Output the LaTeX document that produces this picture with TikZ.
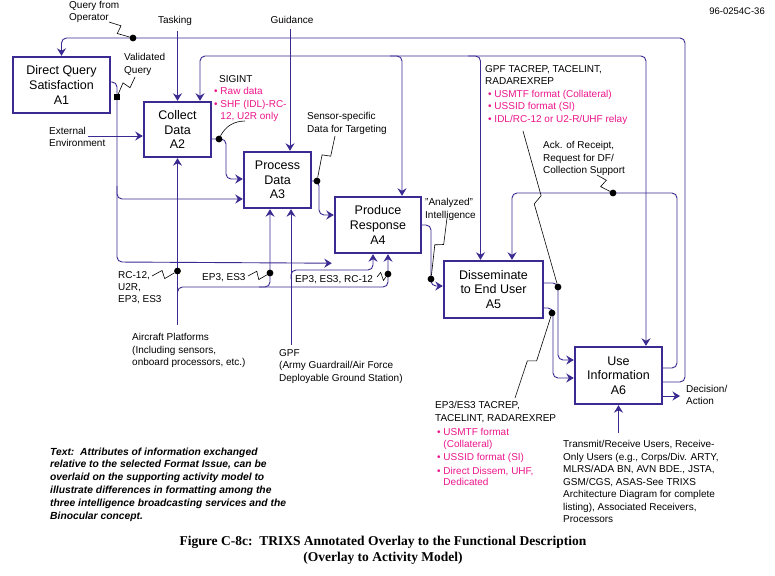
\documentclass[tikz,border=0pt]{standalone}
\usepackage{fontspec}
\setmainfont{Liberation Sans}
\newfontfamily\capfont{Liberation Serif}
\usetikzlibrary{arrows.meta,positioning,calc}
\definecolor{idef}{RGB}{58,42,145}
\definecolor{hot}{RGB}{236,22,140}
\tikzset{>/.tip={Stealth[length=7.5pt,width=9pt,inset=2.5pt]}}
\tikzset{box/.style={draw=idef,line width=2.4pt,align=center,inner sep=0pt,font=\fontsize{12.5}{14.7}\selectfont}}
\tikzset{flow/.style={draw=idef,line width=0.9pt,rounded corners=5pt,->}}
\tikzset{lead/.style={draw=black,line width=0.6pt}}
\tikzset{lbl/.style={font=\fontsize{10}{12.5}\selectfont,align=left,inner sep=0pt,anchor=north west}}
\tikzset{dot/.style={circle,fill=black,inner sep=0pt,minimum size=6.8pt}}
\tikzset{sqdot/.style={rectangle,fill=black,inner sep=0pt,minimum size=5.5pt}}
\def\pk#1{\textcolor{hot}{#1}}
\def\zigto#1#2{\draw[lead] (#1) -- ($(#1)!.42!(#2)!3.5pt!90:(#2)$) -- ($(#1)!.46!(#2)!5pt!-90:(#2)$) -- (#2);}

\begin{document}
\begin{tikzpicture}[x=1pt,y=-1pt,on grid]
        \useasboundingbox[fill=white] (0,0) rectangle (775,575);
        % activity boxes
        \node[box,minimum width=97pt,minimum height=56pt] (A1) at (61.5,85) {Direct Query\\Satisfaction\\A1};
        \node[box,minimum width=67pt,minimum height=55pt,below right=44.5pt and 116pt of A1] (A2) {Collect\\Data\\A2};
        \node[box,minimum width=67pt,minimum height=56pt,below right=50.5pt and 100pt of A2] (A3) {Process\\Data\\A3};
        \node[box,minimum width=86pt,minimum height=56pt,below right=45pt and 100.5pt of A3] (A4) {Produce\\Response\\A4};
        \node[box,minimum width=99pt,minimum height=57pt,below right=64.5pt and 115.5pt of A4] (A5) {Disseminate\\to End User\\A5};
        \node[box,minimum width=87pt,minimum height=57pt,below right=86pt and 125pt of A5] (A6) {Use\\Information\\A6};

        % ports
        \coordinate (a1o) at ([yshift=3pt]A1.east);
        \coordinate (a2c) at ([xshift=22.5pt]A2.north);
        \coordinate (a2w) at ([yshift=-6.5pt]A2.west);
        \coordinate (a2o) at ([yshift=-9.5pt]A2.east);
        \coordinate (a3g) at ([xshift=12.5pt]A3.north);
        \coordinate (a3i1) at ([yshift=1pt]A3.west);
        \coordinate (a3i2) at ([yshift=-19pt]A3.west);
        \coordinate (a3b1) at ([xshift=-7.5pt]A3.south);
        \coordinate (a3b2) at ([xshift=13.5pt]A3.south);
        \coordinate (a3o) at ([yshift=-1pt]A3.east);
        \coordinate (a4t) at ([xshift=24pt]A4.north);
        \coordinate (a4i) at ([yshift=10pt]A4.west);
        \coordinate (a4b1) at ([xshift=-5pt]A4.south);
        \coordinate (a4b2) at ([xshift=10pt]A4.south);
        \coordinate (a4x) at ([xshift=-2pt,yshift=-9pt]A4.south west);
        \coordinate (a5t1) at ([xshift=-13pt]A5.north);
        \coordinate (a5t2) at ([xshift=18.5pt]A5.north);
        \coordinate (a5i) at ([yshift=3.5pt]A5.west);
        \coordinate (a5o1) at ([yshift=6.5pt]A5.east);
        \coordinate (a5o2) at ([yshift=-18.5pt]A5.east);
        \coordinate (a6t) at ([xshift=27.5pt]A6.north);
        \coordinate (a6i1) at ([yshift=15.5pt]A6.west);
        \coordinate (a6i2) at ([yshift=-2.5pt]A6.west);
        \coordinate (a6o1) at ([yshift=7.5pt]A6.east);
        \coordinate (a6o2) at ([yshift=-6.5pt]A6.east);
        \coordinate (a6o3) at ([yshift=-20.5pt]A6.east);

        % bends and free ends
        \coordinate (qtop) at (685,38);
        \coordinate (dtop) at (646,56);
        \coordinate (b4) at (390,56);
        \coordinate (b5) at (468,56);
        \coordinate (vq) at (117,262);
        \coordinate (vqb) at (117,186);
        \coordinate (c23) at (226,160);
        \coordinate (c34) at (319,200);
        \coordinate (c45) at (431,255);
        \coordinate (c56a) at (558,320);
        \coordinate (c56b) at (553,340);
        \coordinate (ackc) at (677,193);
        \coordinate (extc) at (88,136);
        \coordinate (airtop) at (177.5,325);
        \coordinate (ab0) at (177.5,297);
        \coordinate (ab1) at (388,287);
        \coordinate (ab2) at (259,287);
        \coordinate (gtop) at (291,345);
        \coordinate (gb0) at (291,279);
        \coordinate (gb1) at (373,270);
        \coordinate (dec) at (680,396);
        \coordinate (trtop) at (618.5,433);

        % labels
        \node[lbl] (qop) at (69,0.6) {Query from\\Operator};
        \node[lbl,anchor=north] (task) at (175,16.2) {Tasking};
        \node[lbl,anchor=north] (guid) at (292,16.2) {Guidance};
        \node[lbl,anchor=north east,font=\fontsize{9.5}{11}\selectfont] (docno) at (765,7.5) {96-0254C-36};
        \node[lbl] (vqt) at (124,53.2) {Validated\\Query};
        \node[lbl] (ext) at (49,127) {External\\Environment};
        \node[lbl] (sig) at (214,75.2) {\hspace*{5pt}SIGINT\\\pk{• Raw data}\\\pk{• SHF (IDL)-RC-}\\\pk{\phantom{• }12, U2R only}};
        \node[lbl] (sen) at (307,112.2) {Sensor-specific\\Data for Targeting};
        \node[lbl] (gpft) at (485,65.2) {GPF TACREP, TACELINT,\\RADAREXREP\\\hspace*{3pt}\pk{• USMTF format (Collateral)}\\\hspace*{3pt}\pk{• USSID format (SI)}\\\hspace*{3pt}\pk{• IDL/RC-12 or U2-R/UHF relay}};
        \node[lbl] (ack) at (543,141.2) {Ack. of Receipt,\\Request for DF/\\Collection Support};
        \node[lbl] (ana) at (425,198.2) {"Analyzed"\\Intelligence};
        \node[lbl,font=\fontsize{10}{12}\selectfont] (rc) at (118,271.2) {RC-12,\\U2R,\\EP3, ES3};
        \node[lbl] (ep1) at (202,273.2) {EP3, ES3};
        \node[lbl] (ep2) at (295,275.2) {EP3, ES3, RC-12};
        \node[lbl] (air) at (132,333.2) {Aircraft Platforms\\(Including sensors,\\onboard processors, etc.)};
        \node[lbl] (gpf) at (279,349.2) {GPF\\(Army Guardrail/Air Force\\Deployable Ground Station)};
        \node[lbl] (deci) at (686,384.8) {Decision/\\Action};
        \node[lbl,font=\fontsize{10}{11.5}\selectfont] (eptac) at (435,401.2) {EP3/ES3 TACREP,\\[1.5pt]TACELINT, RADAREXREP\\[2.5pt]\hspace*{2pt}\pk{• USMTF format}\\\hspace*{2pt}\pk{\phantom{• }(Collateral)}\\[2pt]\hspace*{2pt}\pk{• USSID format (SI)}\\[2pt]\hspace*{2pt}\pk{• Direct Dissem, UHF,}\\\hspace*{2pt}\pk{\phantom{• }Dedicated}};
        \node[lbl] (trx) at (563,440.2) {Transmit/Receive Users, Receive-\\Only Users (e.g., Corps/Div. ARTY,\\MLRS/ADA BN, AVN BDE., JSTA,\\GSM/CGS, ASAS-See TRIXS\\Architecture Diagram for complete\\listing), Associated Receivers,\\Processors};
        \node[lbl,font=\fontsize{10.3}{12.8}\selectfont\bfseries\itshape] (note) at (50,447.5) {Text:\ \ Attributes of information exchanged\\relative to the selected Format Issue, can be\\overlaid on the supporting activity model to\\illustrate differences in formatting among the\\three intelligence broadcasting services and the\\Binocular concept.};
        \node[font=\capfont\bfseries\fontsize{13.5}{16}\selectfont,align=center,inner sep=0pt,anchor=north] (cap) at (383,536) {Figure C-8c:\ \ TRIXS Annotated Overlay to the Functional Description\\(Overlay to Activity Model)};

        % connectors
        \draw[flow] (a6o2) -| (qtop) -| (A1.north);
        \draw[flow,<->] (a2c) |- (dtop) -- (a6t);
        \draw[flow] (b4) -| (a4t);
        \draw[flow] (b5) -| (a5t1);
        \draw[flow] ([yshift=-5pt]task.south -| A2.north) -- (A2.north);
        \draw[flow] (a3g |- guid.south) ++(0,5) -- (a3g);
        \draw[flow] (extc) -- (a2w);
        \draw[flow] (a1o) -| (vq) -- (a4x);
        \draw[flow] (vqb) |- (a3i2);
        \draw[flow] (a2o) -| (c23) |- (a3i1);
        \draw[flow] (a3o) -| (c34) |- (a4i);
        \draw[flow] (A4.east) -| (c45) |- (a5i);
        \draw[flow] (a5o1) -| (c56a) |- (a6i1);
        \draw[flow] (a5o2) -| (c56b) |- (a6i2);
        \draw[flow] (a6o1) -| (ackc) -| (a5t2);
        \draw[flow] (a6o3) -- (dec);
        \draw[flow] (trtop) -- (A6.south);
        \draw[flow] (airtop) -- (A2.south);
        \draw[flow] (ab0) |- (ab1) -- (a4b2);
        \draw[flow] (ab2) -| (a3b1);
        \draw[flow] (gtop) -- (a3b2);
        \draw[flow] (gb0) |- (gb1) -- (a4b1);

        % dots on the flows
        \node[dot] (dq) at (133,38) {};
        \node[sqdot] (dv) at (117,97) {};
        \node[dot] (ds) at (219,139) {};
        \node[dot] (dt) at (317,181) {};
        \node[dot] (da) at (431,279) {};
        \node[dot] (dg) at (558,287) {};
        \node[dot] (dk) at (613,193) {};
        \node[dot] (de) at (552,313) {};
        \node[dot] (dr) at (177.5,271) {};
        \node[dot] (de1) at (270,273) {};
        \node[dot] (de2) at (388,274) {};

        % leaders
        \coordinate (lq) at (109,22);
        \coordinate (lv) at (135,77);
        \coordinate (ls) at (245,121);
        \coordinate (lt) at (335,136);
        \coordinate (la) at (447,218);
        \coordinate (lg) at (523,131);
        \coordinate (lk) at (597,175);
        \coordinate (le) at (515,398);
        \coordinate (lr) at (152,276);
        \coordinate (le1) at (248,276);
        \coordinate (le2) at (377,277);
        \zigto{lq}{dq}
        \zigto{lv}{dv}
        \draw[lead] (ls) to[bend right=30] (ds);
        \zigto{lt}{dt}
        \zigto{la}{da}
        \zigto{lg}{dg}
        \zigto{lk}{dk}
        \zigto{le}{de}
        \zigto{lr}{dr}
        \zigto{le1}{de1}
        \zigto{le2}{de2}
\end{tikzpicture}
\end{document}
